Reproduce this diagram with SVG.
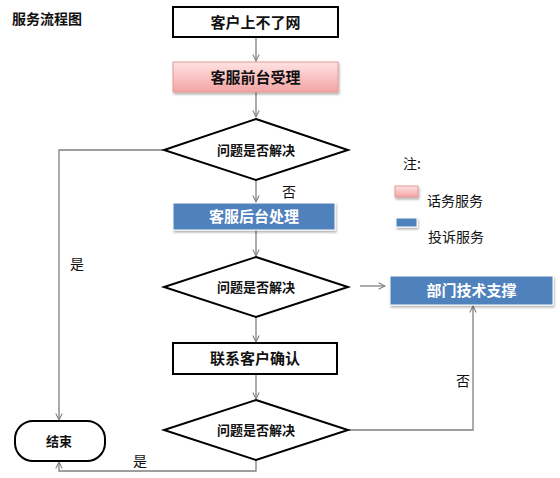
<svg xmlns="http://www.w3.org/2000/svg" width="560" height="478" viewBox="0 0 560 478">
<defs>
<linearGradient id="pink" x1="0" y1="0" x2="0" y2="1">
<stop offset="0" stop-color="#FFE3E3"/>
<stop offset="1" stop-color="#F4A3A3"/>
</linearGradient>
<marker id="ar" viewBox="0 0 10 10" refX="9" refY="5" markerWidth="8" markerHeight="8" markerUnits="userSpaceOnUse" orient="auto">
<path d="M1,1 L9,5 L1,9" fill="none" stroke="#7f7f7f" stroke-width="1.3"/>
</marker>
<filter id="sh" x="-10%" y="-20%" width="125%" height="160%">
<feDropShadow dx="1" dy="2" stdDeviation="1.2" flood-color="#000" flood-opacity="0.3"/>
</filter>
</defs>
<style>
text{font-family:"Noto Sans CJK SC","Noto Sans",sans-serif;fill:#111;}
.t15{font-size:15px;font-weight:bold;text-anchor:middle;}
.t13{font-size:13px;font-weight:bold;text-anchor:middle;}
.w{fill:#fff;}
.box{fill:#fff;stroke:#000;stroke-width:2;}
.dia{fill:#fff;stroke:#000;stroke-width:2;stroke-linejoin:miter;}
.blue{fill:#4F81BD;stroke:#fff;stroke-width:1;filter:url(#sh);}
.pink{fill:url(#pink);stroke:#E39A9A;stroke-width:1;filter:url(#sh);}
.c{fill:none;stroke:#7f7f7f;stroke-width:1.3;}
.lbl{font-size:14px;}
</style>
<text x="12" y="24" style="font-size:14px;font-weight:bold">服务流程图</text>

<g id="connectors">
<line class="c" x1="256" y1="37" x2="256" y2="61" marker-end="url(#ar)"/>
<line class="c" x1="256" y1="92" x2="256" y2="117" marker-end="url(#ar)"/>
<line class="c" x1="256" y1="180" x2="256" y2="202" marker-end="url(#ar)"/>
<line class="c" x1="256" y1="230" x2="256" y2="256" marker-end="url(#ar)"/>
<line class="c" x1="256" y1="317" x2="256" y2="342" marker-end="url(#ar)"/>
<line class="c" x1="256" y1="374" x2="256" y2="399" marker-end="url(#ar)"/>
<polyline class="c" points="163,150 59,150 59,420" marker-end="url(#ar)"/>
<line class="c" x1="360" y1="286" x2="385" y2="286" marker-end="url(#ar)"/>
<polyline class="c" points="348,430 473,430 473,306" marker-end="url(#ar)"/>
<polyline class="c" points="256,460 256,471 59,471 59,462" marker-end="url(#ar)"/>
<text class="lbl" x="282" y="197">否</text>
<text class="lbl" x="70" y="269">是</text>
<text class="lbl" x="456" y="386">否</text>
<text class="lbl" x="133" y="466">是</text>
</g>

<g id="n1">
<rect class="box" x="173" y="7" width="165" height="30"/>
<text class="t15" x="255.5" y="27.5">客户上不了网</text>
</g>
<g id="n2">
<rect class="pink" x="173" y="62" width="165" height="30"/>
<text class="t15" x="255.5" y="82.5">客服前台受理</text>
</g>
<g id="d1">
<polygon class="dia" points="256,119 348,150 256,180 164,150"/>
<text class="t13" x="256" y="155">问题是否解决</text>
</g>
<g id="n3">
<rect class="blue" x="173" y="203" width="162" height="27"/>
<text class="t15 w" x="254" y="222">客服后台处理</text>
</g>
<g id="d2">
<polygon class="dia" points="256,257 348,287 256,317 164,287"/>
<text class="t13" x="256" y="292">问题是否解决</text>
</g>
<g id="n4">
<rect class="blue" x="390" y="276" width="163" height="29"/>
<text class="t15 w" x="471.5" y="296">部门技术支撑</text>
</g>
<g id="n5">
<rect class="box" x="173" y="343" width="164" height="31"/>
<text class="t15" x="255" y="364">联系客户确认</text>
</g>
<g id="d3">
<polygon class="dia" points="256,400 348,430 256,460 164,430"/>
<text class="t13" x="256" y="435">问题是否解决</text>
</g>
<g id="end">
<rect class="box" x="15" y="421" width="90" height="40" rx="18" ry="18"/>
<text class="t13" x="59" y="446">结束</text>
</g>
<g id="legend">
<text class="lbl" x="403" y="169">注:</text>
<rect class="pink" x="395" y="186" width="23" height="11"/>
<text class="lbl" x="427" y="206">话务服务</text>
<rect class="blue" x="396" y="218" width="21" height="9"/>
<text class="lbl" x="428" y="242">投诉服务</text>
</g>
</svg>
